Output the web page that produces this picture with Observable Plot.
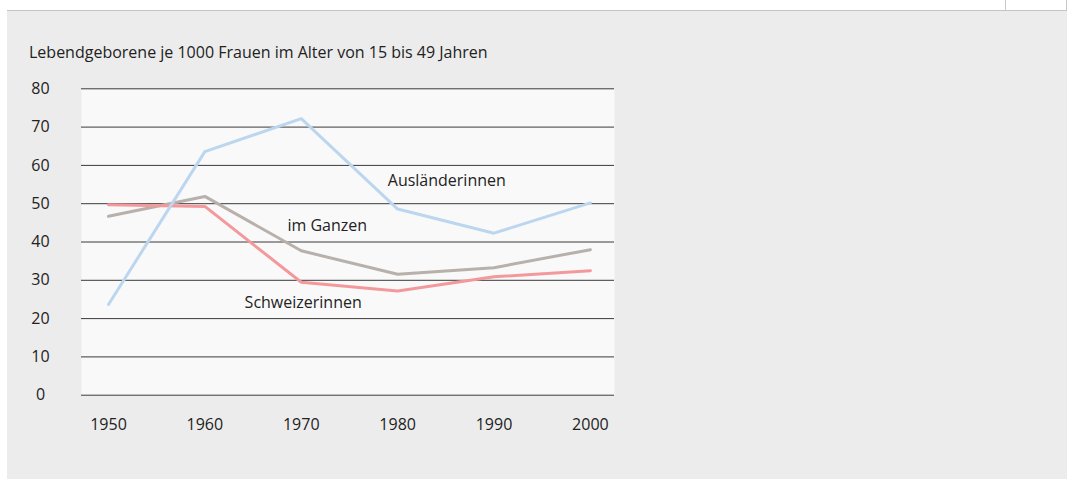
<!DOCTYPE html>
<html>
<head>
<meta charset="utf-8">
<script src="https://cdn.jsdelivr.net/npm/d3@7"></script>
<script src="https://cdn.jsdelivr.net/npm/@observablehq/plot@0.6"></script>
<style>
  html, body { margin: 0; padding: 0; background: #ffffff; width: 1067px; height: 479px; overflow: hidden; }
  body { position: relative; font-family: "Open Sans", sans-serif; }
  #topbox { position: absolute; left: 1005px; top: 0; width: 60px; height: 10px; border-left: 1px solid #c8c8c8; border-right: 1px solid #c8c8c8; }
  #panel { position: absolute; left: 7px; top: 10px; width: 1060px; height: 468px; background: #ececec; border-top: 1px solid #c4c4c4; }
  #title { position: absolute; left: 22px; top: 30px; font-size: 16px; color: #222; white-space: nowrap; }
  #chart { position: absolute; left: 0; top: 59px; }
</style>
</head>
<body>
<div id="topbox"></div>
<div id="panel">
  <div id="title">Lebendgeborene je 1000 Frauen im Alter von 15 bis 49 Jahren</div>
  <div id="chart"></div>
</div>
<script>
const years = [1950, 1960, 1970, 1980, 1990, 2000];
const auslaenderinnen = [23.7, 63.6, 72.2, 48.6, 42.3, 50.2];
const imGanzen = [46.7, 51.9, 37.7, 31.6, 33.3, 38.0];
const schweizerinnen = [49.7, 49.3, 29.5, 27.2, 30.9, 32.5];
const yTicks = [0, 10, 20, 30, 40, 50, 60, 70, 80];
const seriesNames = ["Ausländerinnen", "im Ganzen", "Schweizerinnen"];
const seriesColors = ["#bcd6ef", "#b8b0ab", "#f4999b"];
// label anchors (year, value) for the inline series labels
const labelYears = [1985.1, 1972.7, 1970.2];
const labelValues = [56.0, 44.2, 24.1];

const rows = [];
[auslaenderinnen, imGanzen, schweizerinnen].forEach((vals, i) => {
  years.forEach((yr, j) => rows.push({series: seriesNames[i], year: yr, value: vals[j]}));
});
const labels = seriesNames.map((s, i) => ({series: s, year: labelYears[i], value: labelValues[i]}));
const drawOrder = ["im Ganzen", "Schweizerinnen", "Ausländerinnen"];

const chart = Plot.plot({
  width: 1060,
  height: 380,
  marginLeft: 74,
  marginRight: 453,
  marginTop: 18.3,
  marginBottom: 55.3,
  style: {background: "transparent", fontFamily: "'Open Sans', sans-serif", fontSize: "16px", color: "#222"},
  x: {domain: [1947.2, 2002.5]},
  y: {domain: [0, 80]},
  color: {domain: seriesNames, range: seriesColors},
  marks: [
    Plot.frame({fill: "#f9f9f9", stroke: null}),
    Plot.ruleY(yTicks, {stroke: "#3a3a3a", strokeWidth: 1}),
    Plot.axisY({ticks: yTicks, tickSize: 0, tickPadding: 41, textAnchor: "middle", label: null, fontSize: 16, fill: "#222"}),
    Plot.axisX({ticks: years, tickSize: 0, tickPadding: 23, tickFormat: d => String(d), label: null, fontSize: 16, fill: "#222"}),
    ...drawOrder.map(s => Plot.line(rows.filter(r => r.series === s), {x: "year", y: "value", stroke: "series", strokeWidth: 3})),
    Plot.text(labels, {x: "year", y: "value", text: "series", fontSize: 16, fill: "#222"})
  ]
});
document.getElementById("chart").appendChild(chart);
</script>
</body>
</html>
